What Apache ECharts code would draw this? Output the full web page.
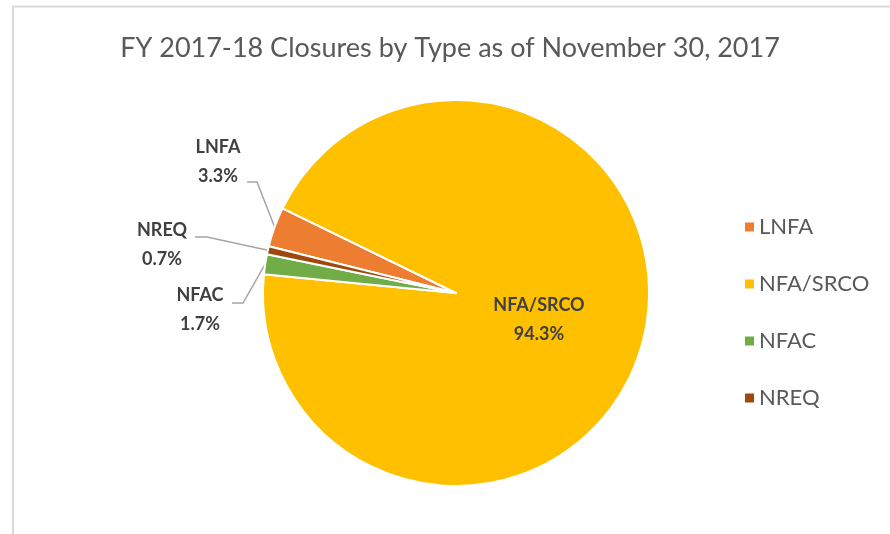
<!DOCTYPE html>
<html>
<head>
<meta charset="utf-8">
<script src="https://cdn.jsdelivr.net/npm/echarts@6/dist/echarts.min.js"></script>
<style>
html,body{margin:0;padding:0;background:#fff;}
#chart{width:890px;height:534px;}
</style>
</head>
<body>
<div id="chart"></div>
<script>
const titleText = 'FY 2017-18 Closures by Type as of November 30, 2017';
const categories = ['LNFA', 'NFA/SRCO', 'NFAC', 'NREQ'];
const values = [10, 283, 5, 2];
const colors = ['#ED7D31', '#FFC000', '#70AD47', '#9E480E'];

// label placement (centre of label text block) per category
const labelPos = {
  'LNFA': {x: 218, y: 162, link: [[257, 182], [247, 182]]},
  'NREQ': {x: 162, y: 245, link: [[207, 237], [195, 237]]},
  'NFAC': {x: 200, y: 310, link: [[243, 303], [232, 303]]},
  'NFA/SRCO': {x: 539, y: 320}
};

const chart = echarts.init(document.getElementById('chart'), null, {renderer: 'canvas'});
const FONT = 'Lato';

chart.setOption({
  animation: false,
  backgroundColor: '#ffffff',
  graphic: [{
    type: 'rect',
    shape: {x: 13, y: 6.5, width: 1000, height: 700},
    style: {fill: 'none', stroke: '#d9d9d9', lineWidth: 2},
    silent: true
  }],
  title: {
    text: titleText,
    left: 445,
    textAlign: 'center',
    top: 30,
    textStyle: {fontFamily: FONT, fontSize: 27, fontWeight: 'normal', color: '#595959'}
  },
  legend: {
    orient: 'vertical',
    left: 738,
    top: 211,
    icon: 'rect',
    itemWidth: 11,
    itemHeight: 11,
    itemGap: 35,
    textStyle: {fontFamily: FONT, fontSize: 22, color: '#595959', lineHeight: 20, padding: [0, 0, 0, -1]},
    data: categories
  },
  series: [{
    type: 'pie',
    center: [456, 293],
    radius: [0, 193],
    startAngle: 166,
    clockwise: true,
    avoidLabelOverlap: false,
    itemStyle: {borderColor: '#ffffff', borderWidth: 2},
    data: categories.map((c, i) => ({
      name: c,
      value: values[i],
      itemStyle: {color: colors[i]},
      label: i === 1 ? {position: 'inside'} : {position: 'outside'},
      labelLine: {show: i !== 1}
    })),
    label: {
      formatter: p => p.name + '\n' + p.percent.toFixed(1) + '%',
      fontFamily: FONT,
      fontSize: 18,
      fontWeight: 'bold',
      color: '#404040',
      lineHeight: 29,
      align: 'center'
    },
    labelLine: {
      show: true,
      length: 20,
      length2: 10,
      lineStyle: {color: '#a6a6a6', width: 1.5}
    },
    labelLayout: function (params) {
      const name = categories[params.dataIndex];
      const lp = labelPos[name];
      const res = {x: lp.x, y: lp.y, align: 'center', verticalAlign: 'middle'};
      if (lp.link && params.labelLinePoints) {
        res.labelLinePoints = [params.labelLinePoints[0], lp.link[0], lp.link[1]];
      }
      return res;
    }
  }]
});
</script>
</body>
</html>
